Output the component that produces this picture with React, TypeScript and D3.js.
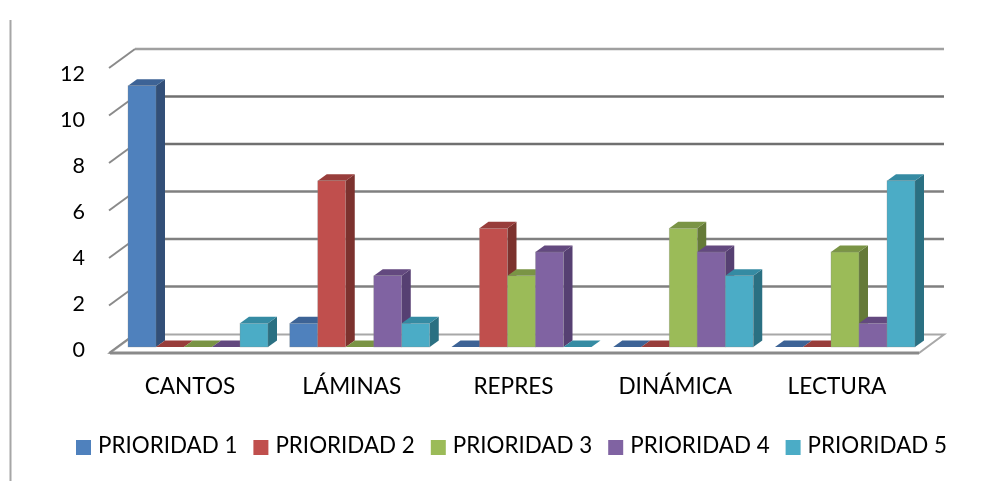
import React from "react";
import * as d3 from "d3";

const categories = ["CANTOS", "LÁMINAS", "REPRES", "DINÁMICA", "LECTURA"];
const seriesNames = ["PRIORIDAD 1", "PRIORIDAD 2", "PRIORIDAD 3", "PRIORIDAD 4", "PRIORIDAD 5"];
const prioridad1 = [11, 1, 0, 0, 0];
const prioridad2 = [0, 7, 5, 0, 0];
const prioridad3 = [0, 0, 3, 5, 4];
const prioridad4 = [0, 3, 4, 4, 1];
const prioridad5 = [1, 1, 0, 3, 7];
const seriesValues = [prioridad1, prioridad2, prioridad3, prioridad4, prioridad5];
const yTicks = [0, 2, 4, 6, 8, 10, 12];
const frontColors = ["#4f81bd", "#c0504d", "#9bbb59", "#8064a2", "#4bacc6"];
const topColors = ["#3c6496", "#983c3a", "#7a9445", "#64497f", "#358ba3"];
const sideColors = ["#325078", "#7c302e", "#657a39", "#563f72", "#2c6f82"];

const FONT = "Lato, 'Open Sans', sans-serif";
const W = 988, H = 481;

// scales
const yFront = d3.scaleLinear().domain([0, 12]).range([353, 68]);
const yBar = d3.scaleLinear().domain([0, 12]).range([347, 62]);
const yLabel = d3.scaleLinear().domain([0, 12]).range([357, 81]);
const xGroup = d3.scaleBand<string>().domain(categories).range([128, 128 + 161.75 * 5]).paddingInner(0).paddingOuter(0).align(0);
const barW = 28;
const wallDx = 26, wallDy = -19;
const barDx = 9, barDy = -6.5;
const floorL = 110, floorR = 919;

const poly = (pts: [number, number][]) => pts.map((p) => p.join(",")).join(" ");

export default function App() {
  const y0 = yBar(0);
  return (
    <svg width={W} height={H} style={{ position: "absolute", left: 0, top: 0, background: "#fff" }}>
      <defs>
        <filter id="soft" x="-5%" y="-5%" width="110%" height="110%">
          <feGaussianBlur stdDeviation="0.7" />
        </filter>
        <filter id="txt" x="-5%" y="-5%" width="110%" height="110%">
          <feGaussianBlur stdDeviation="0.3" />
        </filter>
      </defs>
      <line x1={10.5} x2={10.5} y1={20} y2={481} stroke="#a6a6a6" strokeWidth={2} />
      <g filter="url(#soft)">
        {/* floor */}
        <polygon
          points={poly([[floorL, 353], [floorR, 353], [floorR + wallDx - 1, 334.5], [floorL + wallDx - 1, 334.5]])}
          fill="#fff"
          stroke="#a8a8a8"
          strokeWidth={2}
        />
        <line x1={floorL} x2={floorR} y1={353} y2={353} stroke="#8a8a8a" strokeWidth={3} />
        {/* walls */}
        {yTicks.map((t) => {
          const y = yFront(t);
          const dark = t >= 2 && t <= 10 ? "#808080" : "#a0a0a0";
          return (
            <g key={t}>
              {t > 0 && (
                <line x1={floorL + wallDx - 1} x2={944} y1={y + wallDy} y2={y + wallDy} stroke={t === 8 || t === 10 ? "#707070" : dark} strokeWidth={2.4} />
              )}
              <line x1={109} x2={floorL + wallDx - 1} y1={y} y2={y + wallDy} stroke="#8a8a8a" strokeWidth={2} />
            </g>
          );
        })}
        {/* bars */}
        {categories.map((c, ci) =>
          seriesValues.map((vals, si) => {
            const v = vals[ci];
            const x = (xGroup(c) as number) + si * barW;
            const yt = yBar(v);
            return (
              <g key={c + si}>
                {v > 0 && (
                  <polygon
                    points={poly([[x + barW, y0], [x + barW + barDx, y0 + barDy], [x + barW + barDx, yt + barDy], [x + barW, yt]])}
                    fill={sideColors[si]}
                  />
                )}
                <polygon
                  points={poly([[x, yt], [x + barW, yt], [x + barW + barDx, yt + barDy], [x + barDx, yt + barDy]])}
                  fill={topColors[si]}
                />
                {v > 0 && <rect x={x} y={yt} width={barW} height={y0 - yt} fill={frontColors[si]} stroke="#8a8a8a" strokeOpacity={0.5} strokeWidth={0.6} />}
              </g>
            );
          })
        )}
      </g>
      <g filter="url(#txt)" fontFamily={FONT} fill="#000">
        {yTicks.map((t) => (
          <text key={t} x={85} y={yLabel(t)} textAnchor="end" fontSize={21.5}>{t}</text>
        ))}
        {categories.map((c) => (
          <text key={c} x={(xGroup(c) as number) + 62} y={393.5} textAnchor="middle" fontSize={22.6}>{c}</text>
        ))}
        {seriesNames.map((s, i) => (
          <g key={s}>
            <rect x={76 + i * 177.4} y={440} width={15} height={15} fill={frontColors[i]} />
            <text x={98 + i * 177.4} y={452.5} fontSize={22.4}>{s}</text>
          </g>
        ))}
      </g>
    </svg>
  );
}
